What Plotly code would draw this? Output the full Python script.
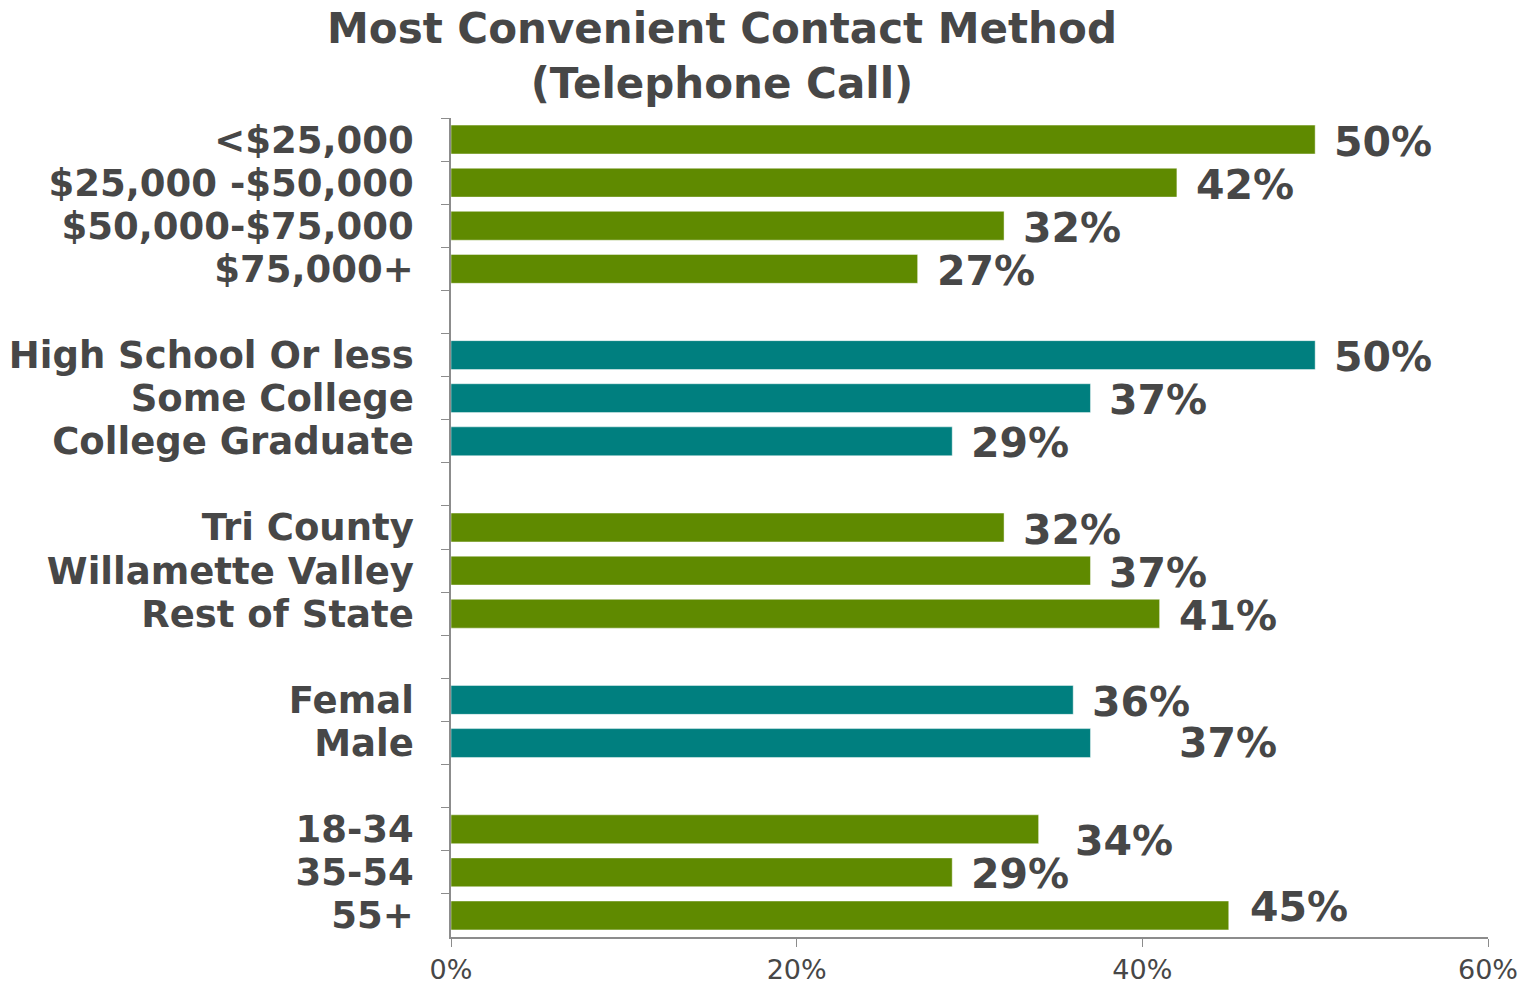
import plotly.graph_objects as go

# ── Data ──────────────────────────────────────────────────────────────────────
# blank strings are spacer rows between groups
CATEGORIES = ["<$25,000", "$25,000 -$50,000", "$50,000-$75,000", "$75,000+", " ",
              "High School Or less", "Some College", "College Graduate", "  ",
              "Tri County", "Willamette Valley", "Rest of State", "   ",
              "Femal", "Male", "    ",
              "18-34", "35-54", "55+"]
VALUES = [0.50, 0.42, 0.32, 0.27, None,
          0.50, 0.37, 0.29, None,
          0.32, 0.37, 0.41, None,
          0.36, 0.37, None,
          0.34, 0.29, 0.45]
GROUPS = ["income"] * 5 + ["education"] * 4 + ["region"] * 4 + ["gender"] * 3 + ["age"] * 3
TITLE = "Most Convenient Contact Method<br>(Telephone Call)"

GREEN, TEAL = "#5F8A00", "#007F7F"
GROUP_COLORS = {"income": GREEN, "education": TEAL, "region": GREEN, "gender": TEAL, "age": GREEN}
TEXT = "#474747"
AXIS = "#8C8C8C"
FONT = "DejaVu Sans, Verdana, sans-serif"

# label nudges (px) where the original labels sit off the usual spot
NUDGE = {"Male": (87, 0), "18-34": (34, -12), "55+": (19, 8)}

# ── Figure ────────────────────────────────────────────────────────────────────
fig = go.Figure(go.Bar(
    x=VALUES,
    y=CATEGORIES,
    orientation="h",
    marker_color=[GROUP_COLORS[g] for g in GROUPS],
    marker_line=dict(color="rgba(255,255,255,0.45)", width=1),
    hoverinfo="skip",
))

for cat, val in zip(CATEGORIES, VALUES):
    if val is None:
        continue
    dx, dy = NUDGE.get(cat, (17, -2))
    fig.add_annotation(
        x=val, y=cat, text=f"<b>{val:.0%}</b>",
        showarrow=False, xanchor="left", yanchor="middle",
        xshift=dx, yshift=dy,
        font=dict(family=FONT, size=41, color=TEXT),
    )

# title as a paper annotation so the two lines sit where the original has them
fig.add_annotation(
    xref="paper", yref="paper", x=0.2613, y=1.1416,
    xanchor="center", yanchor="top",
    text=f"<b>{TITLE}</b>", showarrow=False,
    font=dict(family=FONT, size=42, color=TEXT),
)

n = len(CATEGORIES)
fig.update_layout(
    width=1533, height=985,
    paper_bgcolor="white", plot_bgcolor="white",
    margin=dict(l=451, r=45, t=118, b=48),
    bargap=0.33,
    showlegend=False,
    font=dict(family=FONT, color=TEXT),
    xaxis=dict(
        range=[0, 0.6], dtick=0.2, tickformat=".0%",
        showgrid=False, zeroline=False, automargin=False,
        showline=True, linecolor=AXIS, linewidth=1.5,
        ticks="outside", ticklen=8, tickcolor=AXIS,
        tickfont=dict(family=FONT, size=27, color=TEXT),
    ),
    yaxis=dict(
        type="category", categoryorder="array", categoryarray=CATEGORIES,
        range=[n - 0.5, -0.5], autorange=False,
        tickmode="linear", tick0=0, dtick=1,
        showgrid=False, zeroline=False, automargin=False,
        showline=True, linecolor=AXIS, linewidth=1.5,
        ticks="outside", ticklen=8, tickcolor=AXIS, tickson="boundaries",
        ticklabelstandoff=28,
        tickfont=dict(family=FONT, size=37, color=TEXT),
        tickprefix="<b>", ticksuffix="</b>",
    ),
)

# drop the default page margin so the 1533x985 figure fills the window
fig.write_html(
    "out.html",
    config=dict(displayModeBar=False),
    post_script="document.body.style.margin='0';document.body.style.overflow='hidden';",
)
